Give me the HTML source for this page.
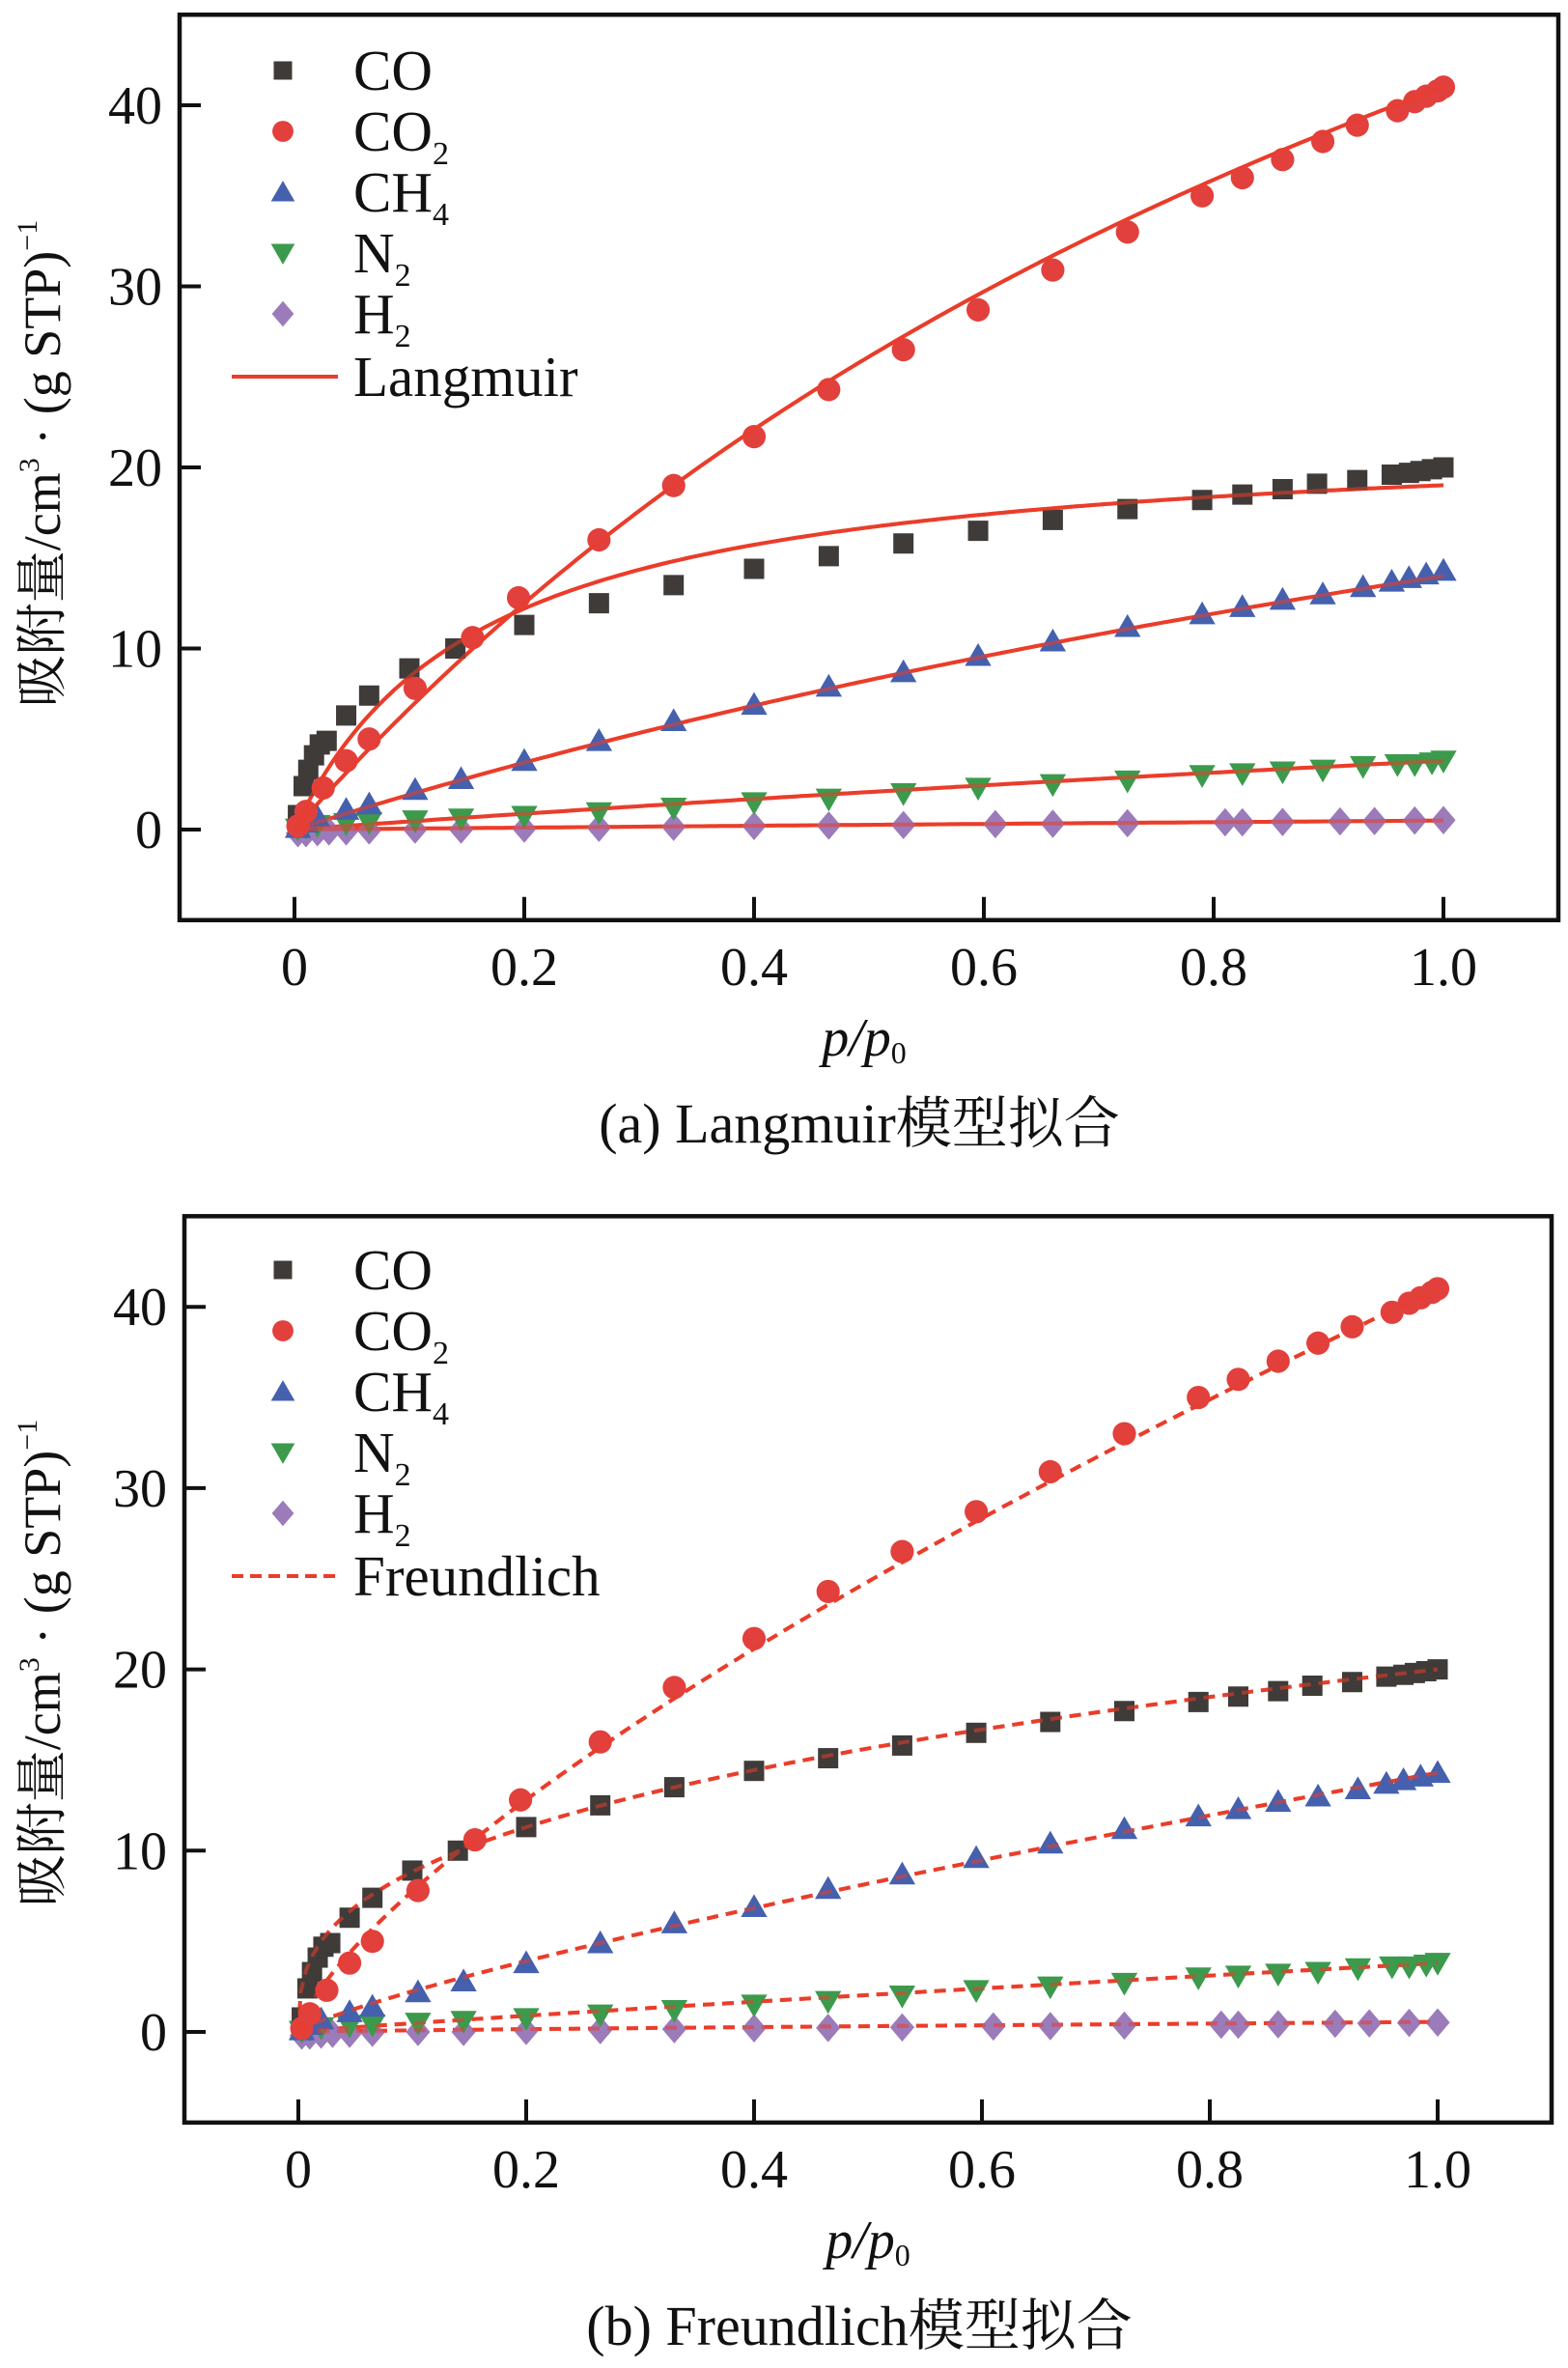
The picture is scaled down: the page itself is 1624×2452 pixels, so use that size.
<!DOCTYPE html>
<html><head><meta charset="utf-8">
<style>
html,body{margin:0;padding:0;background:#fff;}
svg{display:block;}
text{font-family:"Liberation Serif","Noto Serif CJK SC",serif;fill:#111;}
</style></head>
<body>
<svg id="fig" width="1624" height="2452" viewBox="0 0 1624 2452" xmlns="http://www.w3.org/2000/svg"></svg>
<script>
// ---- data ----
const coX = [0.003,0.008,0.012,0.017,0.022,0.028,0.045,0.065,0.10,0.14,0.2,0.265,0.33,0.4,0.465,0.53,0.595,0.66,0.725,0.79,0.825,0.86,0.89,0.925,0.955,0.97,0.98,0.99,1.0];
const coY = [0.8,2.4,3.3,4.1,4.7,4.9,6.3,7.4,8.9,10,11.3,12.5,13.5,14.4,15.1,15.8,16.5,17.1,17.7,18.2,18.5,18.8,19.1,19.3,19.6,19.7,19.8,19.9,20.0];
const co2X = [0.003,0.01,0.025,0.045,0.065,0.105,0.155,0.195,0.265,0.33,0.4,0.465,0.53,0.595,0.66,0.725,0.79,0.825,0.86,0.895,0.925,0.96,0.975,0.985,0.995,1.0];
const co2Y = [0.2,1.0,2.3,3.8,5.0,7.8,10.6,12.8,16,19,21.7,24.3,26.5,28.7,30.9,33,35,36,37,38,38.9,39.7,40.2,40.5,40.8,41.0];
const ch4X = [0.003,0.01,0.02,0.045,0.065,0.105,0.145,0.2,0.265,0.33,0.4,0.465,0.53,0.595,0.66,0.725,0.79,0.825,0.86,0.895,0.93,0.955,0.97,0.985,1.0];
const ch4Y = [0.1,0.4,0.7,1.1,1.4,2.2,2.8,3.8,4.9,6.0,6.9,7.9,8.7,9.6,10.4,11.2,11.9,12.3,12.7,13.0,13.4,13.7,13.9,14.1,14.3];
const n2X = [0.003,0.01,0.02,0.045,0.065,0.105,0.145,0.2,0.265,0.33,0.4,0.465,0.53,0.595,0.66,0.725,0.79,0.825,0.86,0.895,0.93,0.96,0.975,0.99,1.0];
const n2Y = [0.05,0.15,0.25,0.35,0.4,0.5,0.6,0.75,0.95,1.2,1.5,1.7,2.0,2.3,2.5,2.7,3.0,3.1,3.2,3.3,3.5,3.6,3.6,3.7,3.8];
const h2X = [0.003,0.01,0.02,0.03,0.045,0.065,0.105,0.145,0.2,0.265,0.33,0.4,0.465,0.53,0.61,0.66,0.725,0.81,0.825,0.86,0.91,0.94,0.975,1.0];
const h2Y = [-0.2,-0.2,-0.15,-0.1,-0.1,-0.05,0,0,0.05,0.1,0.15,0.2,0.22,0.25,0.3,0.32,0.35,0.4,0.4,0.42,0.45,0.47,0.5,0.52];
// Langmuir params per gas (CO, CO2, CH4, N2, H2)
const langQm = [22.1, 95.3, 46.2, 22.8, 5.5];
const langK  = [6.17, 0.755, 0.435, 0.2, 0.1];
// Freundlich params
const freK = [20.0, 41.0, 14.3, 3.8, 0.55];
const freA = [0.355, 0.723, 0.806, 0.9, 0.8];
const xTicks = [0, 0.2, 0.4, 0.6, 0.8, 1.0];
const xTickLabels = ["0","0.2","0.4","0.6","0.8","1.0"];
const yTicks = [0, 10, 20, 30, 40];
const yTickLabels = ["0","10","20","30","40"];
const gasNames = ["co","co2","ch4","n2","h2"];

const NS = "http://www.w3.org/2000/svg";
const svg = document.getElementById("fig");
function mk(tag, attrs, parent){
  const e = document.createElementNS(NS, tag);
  for (const k in attrs) e.setAttribute(k, attrs[k]);
  (parent||svg).appendChild(e);
  return e;
}
const colors = ["#3f3b39","#e2403c","#4560ad","#3c9a4c","#9b7bba"];
const fitColor = "#ea3d2a";

function marker(g, kind, cx, cy, s){
  let e;
  if (kind===0) e = mk("rect",{x:cx-s,y:cy-s,width:2*s,height:2*s,fill:colors[0]},g);
  else if (kind===1) e = mk("circle",{cx:cx,cy:cy,r:s*1.15,fill:colors[1]},g);
  else if (kind===2) e = mk("polygon",{points:`${cx},${cy-s*1.25} ${cx+s*1.3},${cy+s} ${cx-s*1.3},${cy+s}`,fill:colors[2]},g);
  else if (kind===3) e = mk("polygon",{points:`${cx},${cy+s*1.25} ${cx+s*1.3},${cy-s} ${cx-s*1.3},${cy-s}`,fill:colors[3]},g);
  else e = mk("polygon",{points:`${cx},${cy-s*1.4} ${cx+s*1.2},${cy} ${cx},${cy+s*1.4} ${cx-s*1.2},${cy}`,fill:colors[4]},g);
  return e;
}

function drawPanel(P){
  const g = mk("g",{});
  
  
  const X = v => P.x0 + v*P.xs;
  const Y = v => P.y0 - v*P.ys;
  const L = X(-0.1), R = X(1.1), T = Y(45), B = Y(-5);
  const fg = mk("g",{},g);
  
  
  for (let i=0;i<5;i++){
    let d="";
    for (let k=0;k<=200;k++){
      const p = 0.002 + k*(0.998/200);
      const q = P.type==="lang" ? langQm[i]*langK[i]*p/(1+langK[i]*p) : freK[i]*Math.pow(p,freA[i]);
      d += (k?"L":"M")+X(p).toFixed(1)+","+Y(q).toFixed(1);
    }
    const path = mk("path",{d:"M"+X(0).toFixed(1)+","+Y(0).toFixed(1)+d.replace(/^M/,"L"),fill:"none",stroke:fitColor,"stroke-width":4,"stroke-dasharray":P.type==="lang"?"none":"12 8"},fg);
    
    
  }
  const sets = [[coX,coY],[co2X,co2Y],[ch4X,ch4Y],[n2X,n2Y],[h2X,h2Y]];
  const order = [4,3,2,0,1];
  for (const i of order){
    const sg = mk("g",{},g);
    
    
    for (let k=0;k<sets[i][0].length;k++){
      const m = marker(sg, i, X(sets[i][0][k]), Y(sets[i][1][k]), 10.5);
      
      
    }
  }
  const fg2 = fg.cloneNode(true); fg2.setAttribute('opacity','0.55'); g.appendChild(fg2);
  
  const fr = mk("rect",{x:L,y:T,width:R-L,height:B-T,fill:"none",stroke:"#111","stroke-width":4.5},g);
  
  
  for (let i=0;i<xTicks.length;i++){
    const t = mk("line",{x1:X(xTicks[i]),x2:X(xTicks[i]),y1:B,y2:B-24,stroke:"#111","stroke-width":4},g);
    
    
    const tl = mk("text",{x:X(xTicks[i]),y:B+67,"font-size":56,"text-anchor":"middle"},g);
    tl.textContent = xTickLabels[i];
    
    
  }
  for (let i=0;i<yTicks.length;i++){
    const t = mk("line",{x1:L,x2:L+22,y1:Y(yTicks[i]),y2:Y(yTicks[i]),stroke:"#111","stroke-width":4},g);
    
    
    const tl = mk("text",{x:L-18,y:Y(yTicks[i])+19,"font-size":56,"text-anchor":"end"},g);
    tl.textContent = yTickLabels[i];
    
    
  }
  const yt = mk("text",{x:0,y:0,"font-size":54,"text-anchor":"middle",transform:`translate(${P.yLabX},${P.yLabY}) rotate(-90)`},g);
  yt.innerHTML = '吸附量/cm<tspan font-size="30" dy="-22">3</tspan><tspan dy="22"> · (g STP)</tspan><tspan font-size="30" dy="-24">−1</tspan>';
  
  
  const xt = mk("text",{x:P.x0+590,y:B+140,"font-size":56,"text-anchor":"middle","font-style":"italic"},g);
  xt.innerHTML = 'p/p<tspan font-size="32" dy="8" font-style="normal">0</tspan>';
  
  
  const cap = mk("text",{x:890,y:B+230,"font-size":58,"text-anchor":"middle"},g);
  cap.textContent = P.caption;
  
  
  const lg = mk("g",{},g);
  
  
  const labels = ['CO','CO<tspan font-size="34" dy="14">2</tspan>','CH<tspan font-size="34" dy="14">4</tspan>','N<tspan font-size="34" dy="14">2</tspan>','H<tspan font-size="34" dy="14">2</tspan>'];
  for (let i=0;i<5;i++){
    const cy = P.legY + i*63;
    const m = marker(lg, i, 293, cy, 9.5);
    
    
    const t = mk("text",{x:366,y:cy+20,"font-size":59},lg);
    t.innerHTML = labels[i];
    
    
  }
  const cy = P.legY + 5*63+2;
  const ll = mk("line",{x1:240,x2:350,y1:cy,y2:cy,stroke:fitColor,"stroke-width":4,"stroke-dasharray":P.type==="lang"?"none":"12 7"},lg);
  
  
  const lt = mk("text",{x:366,y:cy+20,"font-size":59},lg);
  lt.textContent = P.type==="lang" ? "Langmuir" : "Freundlich";
  
  
}

drawPanel({id:"panel-a",type:"lang",x0:305,xs:1190,y0:859,ys:18.75,legY:73,yLabX:62,yLabY:480,caption:"(a) Langmuir模型拟合"});
drawPanel({id:"panel-b",type:"fre",x0:309,xs:1180,y0:2104,ys:18.77,legY:1315,yLabX:62,yLabY:1722,caption:"(b) Freundlich模型拟合"});
</script>
</body></html>
